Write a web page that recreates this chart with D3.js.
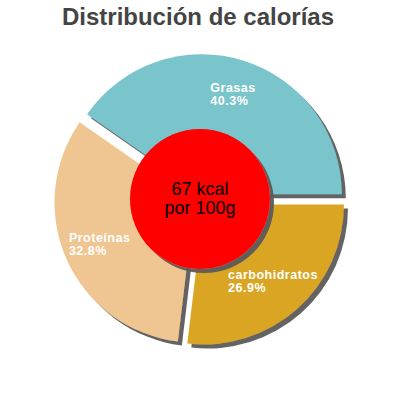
<!DOCTYPE html>
<html>
<head>
<meta charset="utf-8">
<script src="https://cdn.jsdelivr.net/npm/d3@7"></script>
<style>
  body { margin: 0; background: #fff; }
  svg { display: block; font-family: "Liberation Sans", Arial, sans-serif; }
</style>
</head>
<body>
<svg id="chart" width="400" height="400"></svg>
<script>
// data
const categories = ["Grasas", "carbohidratos", "Proteínas"];
const shares = [40.3, 26.9, 32.8];
const colors = ["#7ac4cc", "#daa523", "#efc591"];
const centerLines = ["67 kcal", "por 100g"];
const title = "Distribución de calorías";

const width = 400, height = 400;
const cx = 200, cy = 200;
const radius = 140, explode = 6, labelRadius = 104, holeRadius = 70;

const svg = d3.select("#chart");

// drop shadow
const defs = svg.append("defs");
defs.append("filter")
    .attr("id", "shadow")
    .attr("x", "-20%").attr("y", "-20%")
    .attr("width", "140%").attr("height", "140%")
  .append("feDropShadow")
    .attr("dx", 4).attr("dy", 4)
    .attr("stdDeviation", 0.3)
    .attr("flood-color", "#5a5a5a")
    .attr("flood-opacity", 0.95);

// title
svg.append("text")
    .attr("x", width / 2 - 2)
    .attr("y", 25)
    .attr("text-anchor", "middle")
    .attr("font-size", 24)
    .attr("font-weight", "bold")
    .attr("fill", "#444")
    .text(title);

const total = d3.sum(shares);
// first slice ends at 3 o'clock
const start = Math.PI / 2 - 2 * Math.PI * shares[0] / total;

const pie = d3.pie()
    .sort(null)
    .startAngle(start)
    .endAngle(start + 2 * Math.PI)
    .value(d => d.value);

const arcs = pie(categories.map((c, i) => ({ name: c, value: shares[i], color: colors[i] })));

const arc = d3.arc().innerRadius(0).outerRadius(radius);
const labelArc = d3.arc().innerRadius(labelRadius).outerRadius(labelRadius);

const offset = d => {
  const a = (d.startAngle + d.endAngle) / 2;
  return [explode * Math.sin(a), -explode * Math.cos(a)];
};

const g = svg.append("g").attr("transform", `translate(${cx},${cy})`);

g.selectAll("path.slice")
  .data(arcs)
  .join("path")
    .attr("class", "slice")
    .attr("transform", d => `translate(${offset(d)})`)
    .attr("d", arc)
    .attr("fill", d => d.data.color)
    .attr("filter", "url(#shadow)");

// labels: name + share, left aligned, block centred on the label arc
const labels = g.selectAll("text.label")
  .data(arcs)
  .join("text")
    .attr("class", "label")
    .attr("fill", "#fff")
    .attr("font-size", 12.5)
    .attr("font-weight", "bold")
    .attr("letter-spacing", 0.5);

labels.append("tspan").attr("class", "l1").text(d => d.data.name);
labels.append("tspan").attr("class", "l2").text(d => d.data.value.toFixed(1) + "%");

labels.each(function(d) {
  const [ox, oy] = offset(d);
  const [lx, ly] = labelArc.centroid(d);
  const t = d3.select(this);
  const w = t.select(".l1").node().getComputedTextLength();
  const x = lx + ox - w / 2;
  t.select(".l1").attr("x", x).attr("y", ly + oy - 3);
  t.select(".l2").attr("x", x).attr("y", ly + oy + 10);
});

// centre disc
g.append("circle")
    .attr("cx", 0).attr("cy", -1)
    .attr("r", holeRadius)
    .attr("fill", "#ff0000")
    .attr("filter", "url(#shadow)");

g.append("text")
    .attr("text-anchor", "middle")
    .attr("font-size", 18)
    .attr("fill", "#000")
  .selectAll("tspan")
  .data(centerLines)
  .join("tspan")
    .attr("x", 0)
    .attr("y", (d, i) => -5 + i * 19)
    .text(d => d);
</script>
</body>
</html>
